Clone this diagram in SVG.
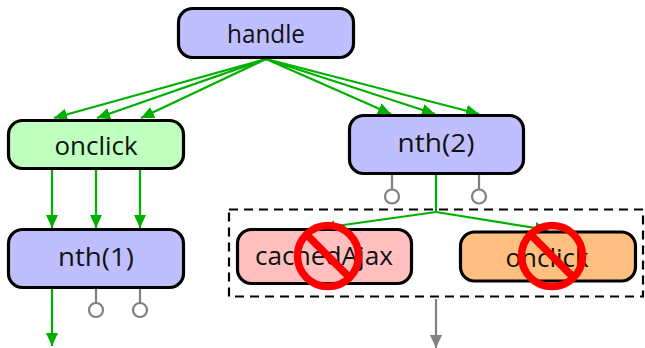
<svg xmlns="http://www.w3.org/2000/svg" width="645" height="348" viewBox="0 0 645 348">
<style>
.n rect{stroke:#000;stroke-width:3.200;}
.n text{font-family:"Open Sans","Liberation Sans",sans-serif;font-size:26px;fill:#111;text-anchor:middle;}
.g{stroke:#00b000;stroke-width:2.200;fill:none;}
.h{stroke:#808080;stroke-width:2.200;fill:none;}
.ga{stroke:#00b000;stroke-width:2.200;fill:none;marker-end:url(#ag);}
.ha{stroke:#808080;stroke-width:2.200;fill:none;marker-end:url(#ah);}
.no{stroke:#f00;stroke-width:7.500;fill:none;}
</style>
<defs>
<marker id="ag" markerUnits="userSpaceOnUse" markerWidth="14" markerHeight="12" refX="13" refY="6" orient="auto"><path d="M0 0L13 6L0 12Z" fill="#00b000"/></marker>
<marker id="ah" markerUnits="userSpaceOnUse" markerWidth="14" markerHeight="12" refX="13" refY="6" orient="auto"><path d="M0 0L13 6L0 12Z" fill="#808080"/></marker>
</defs>
<g id="connectors">
<path class="ga" d="M266 59L54 118"/>
<path class="ga" d="M266 59L97 118"/>
<path class="ga" d="M266 59L141 118"/>
<path class="ga" d="M266 59L391 114"/>
<path class="ga" d="M266 59L435 114"/>
<path class="ga" d="M266 59L479 114"/>
<path class="ga" d="M52 170V228"/>
<path class="ga" d="M96 170V228"/>
<path class="ga" d="M140 170V228"/>
<path class="ga" d="M52 289V346"/>
<path class="h" d="M96 289V303"/><circle class="h" cx="96" cy="310" r="7"/>
<path class="h" d="M140 289V303"/><circle class="h" cx="140" cy="310" r="7"/>
<path class="h" d="M392 175V189"/><circle class="h" cx="392" cy="196.500" r="7"/>
<path class="h" d="M479 175V189"/><circle class="h" cx="479" cy="196.500" r="7"/>
<path class="g" d="M436 175V212"/>
<path class="ga" d="M436 212L322 228"/>
<path class="ga" d="M436 212L548 230"/>
<path class="ha" d="M436 299V348"/>
</g>
<rect id="group-box" x="229" y="209.500" width="414" height="87" fill="none" stroke="#000" stroke-width="2.200" stroke-dasharray="9 6"/>
<g id="handle" class="n"><rect x="178.500" y="8.500" width="175" height="49" rx="14" fill="#bfbfff"/><text x="266" y="43" textLength="78" lengthAdjust="spacingAndGlyphs">handle</text></g>
<g id="onclick1" class="n"><rect x="8.500" y="120.500" width="175" height="48" rx="14" fill="#bfffbf"/><text x="96" y="155" textLength="83" lengthAdjust="spacingAndGlyphs">onclick</text></g>
<g id="nth2" class="n"><rect x="349.500" y="115.500" width="174" height="58" rx="14" fill="#bfbfff"/><text x="436" y="152" textLength="77" lengthAdjust="spacingAndGlyphs">nth(2)</text></g>
<g id="nth1" class="n"><rect x="8.500" y="229.500" width="175" height="58" rx="14" fill="#bfbfff"/><text x="96" y="266" textLength="76" lengthAdjust="spacingAndGlyphs">nth(1)</text></g>
<g id="cachedAjax" class="n"><rect x="237.500" y="229.500" width="174" height="54" rx="14" fill="#ffbfbf"/><text x="324" y="265" textLength="138" lengthAdjust="spacingAndGlyphs">cachedAjax</text></g>
<g id="onclick2" class="n"><rect x="460.500" y="232" width="175" height="49" rx="14" fill="#ffbf80"/><text x="547" y="267" textLength="83" lengthAdjust="spacingAndGlyphs">onclick</text></g>
<g id="no1"><circle class="no" cx="328" cy="256" r="30.500"/><path class="no" d="M306 234L350 278"/></g>
<g id="no2"><circle class="no" cx="552" cy="256" r="30.500"/><path class="no" d="M530 234L574 278"/></g>
</svg>
